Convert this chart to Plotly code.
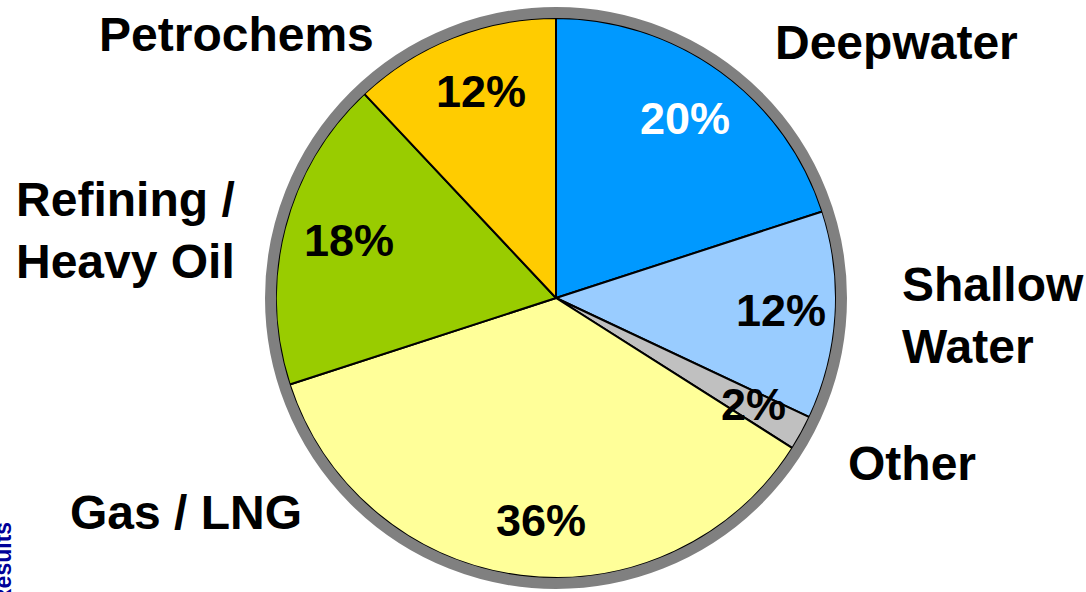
import plotly.graph_objects as go

W, H = 1086, 592

# ---- data ----
segments = ["Deepwater", "Shallow Water", "Other", "Gas / LNG", "Refining / Heavy Oil", "Petrochems"]
shares = [20, 12, 2, 36, 18, 12]
label_text = ["Deepwater", "Shallow<br>Water", "Other", "Gas / LNG", "Refining /<br>Heavy Oil", "Petrochems"]

# ---- styles / layout ----
colors = ["#0099FF", "#99CCFF", "#C0C0C0", "#FFFF99", "#99CC00", "#FFCC00"]
pct_colors = ["white", "black", "black", "black", "black", "black"]
FONT = "Liberation Sans, Arial, sans-serif"

cx, cy, r = 556, 298, 280
ring_w = 11

label_pos = [(896, 43, "center"), (900, 315, "left"), (912, 463, "center"),
             (186, 512, "center"), (125, 231, "center"), (236, 34, "center")]
pct_pos = [(685, 118), (781, 310), (753, 404), (541, 520), (349, 240), (481, 92)]


def px(x):
    return x / W


def py(y):
    return 1 - y / H


fig = go.Figure(go.Pie(
    labels=segments,
    values=shares,
    sort=False,
    direction="clockwise",
    rotation=0,
    textinfo="none",
    hoverinfo="label+percent",
    marker=dict(colors=colors, line=dict(color="black", width=2)),
    domain=dict(x=[px(cx - r), px(cx + r)], y=[py(cy + r), py(cy - r)]),
    showlegend=False,
))

R = r + ring_w / 2
fig.add_shape(type="circle", xref="paper", yref="paper",
              x0=px(cx - R), x1=px(cx + R), y0=py(cy + R), y1=py(cy - R),
              line=dict(color="#808080", width=ring_w), layer="above")

annotations = []
for txt, (x, y, al) in zip(label_text, label_pos):
    annotations.append(dict(
        x=px(x), y=py(y), xref="paper", yref="paper", text=txt, showarrow=False,
        xanchor="left" if al == "left" else "center", yanchor="middle", align=al,
        font=dict(family=FONT, size=48, color="black", weight="bold")))
for v, (x, y), c in zip(shares, pct_pos, pct_colors):
    annotations.append(dict(
        x=px(x), y=py(y), xref="paper", yref="paper", text=f"{v}%", showarrow=False,
        xanchor="center", yanchor="middle",
        font=dict(family=FONT, size=45, color=c, weight="bold")))
annotations.append(dict(
    x=0, y=py(564), xref="paper", yref="paper", text="Results", showarrow=False,
    textangle=-90, xanchor="left", yanchor="middle", xshift=-12,
    font=dict(family=FONT, size=23, color="#000099", weight="bold")))

fig.update_layout(
    width=W, height=H,
    margin=dict(l=0, r=0, t=0, b=0),
    paper_bgcolor="white", plot_bgcolor="white",
    annotations=annotations,
)

fig.write_html("out.html")
